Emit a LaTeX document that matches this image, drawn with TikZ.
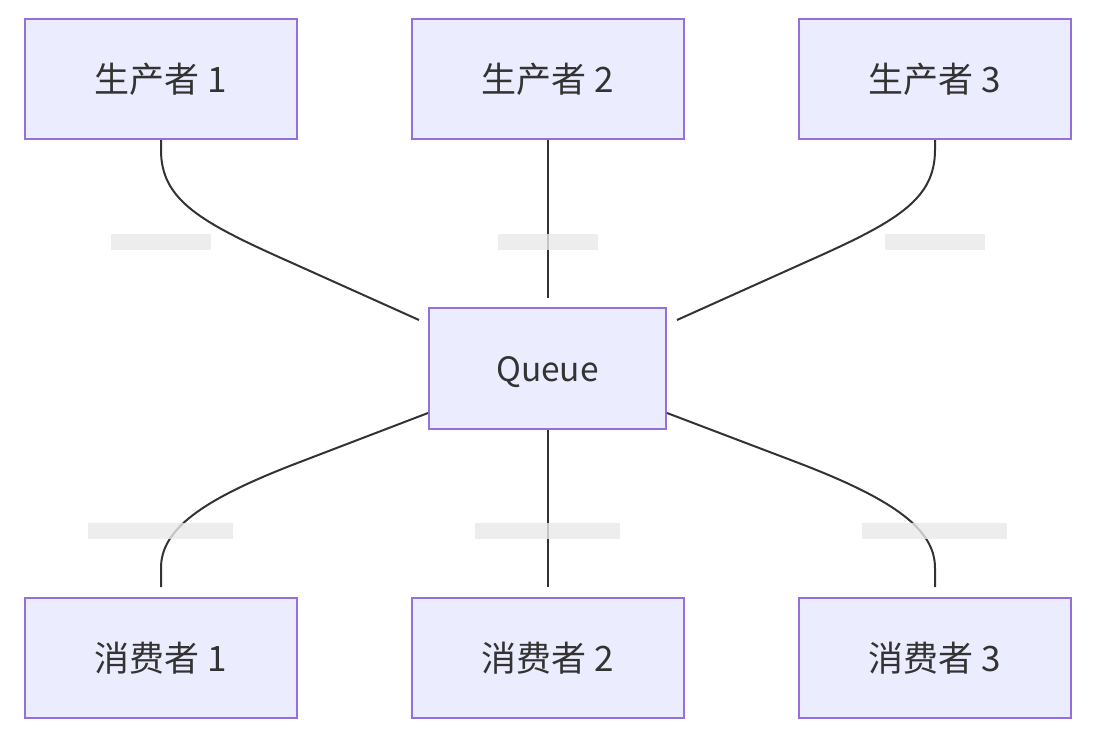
\documentclass[tikz,border=0pt]{standalone}
\usepackage{fontspec}
\setmainfont{Noto Sans CJK SC}
\begin{document}
\begin{tikzpicture}[x=1pt,y=-1pt]
\definecolor{nodefill}{HTML}{ECECFF}
\definecolor{nodeline}{HTML}{9370DB}
\definecolor{ink}{HTML}{333333}
\definecolor{lblbg}{RGB}{232,232,232}
\tikzset{
  box/.style={draw=nodeline, fill=nodefill, line width=2pt, minimum width=272pt, minimum height=120pt, inner sep=0pt, text=ink, font=\fontsize{35}{40}\selectfont},
  qbox/.style={box, minimum width=237pt, minimum height=121pt, font=\fontsize{33.5}{40}\selectfont},
  conn/.style={draw=ink, line width=2pt},
  lbl/.style={fill=lblbg, fill opacity=0.8, draw=none, inner sep=0pt, minimum height=16pt}
}
\useasboundingbox (0,0) rectangle (1096,742);
\node[box] (p1) at (161,79) {生产者 1};
\node[box] (p2) at (548,79) {生产者 2};
\node[box] (p3) at (935,79) {生产者 3};
\node[qbox] (q) at (547.5,368.5) {\raisebox{-4pt}[\height][\depth]{Queue}};
\node[box] (c1) at (161,658) {消费者 1};
\node[box] (c2) at (548,658) {消费者 2};
\node[box] (c3) at (935,658) {消费者 3};
\coordinate (qp1) at (419,320);
\coordinate (qp2) at (548,298);
\coordinate (qp3) at (677,320);
\coordinate (cc1) at (161,587);
\coordinate (cc2) at (547.5,587);
\coordinate (cc3) at (935,587);
% producers -> queue
\draw[conn] (p1.south) -- (161,150) .. controls (161,200) and (200,222) .. (290,262) -- (qp1);
\draw[conn] (p2.south) -- (qp2);
\draw[conn] (p3.south) -- (935,150) .. controls (935,200) and (896,222) .. (806,262) -- (qp3);
% queue -> consumers
\draw[conn] (q.south west |- 0,413) -- (300,462) .. controls (200,500) and (161,530) .. (161,568) -- (cc1);
\draw[conn] (q.south) -- (cc2);
\draw[conn] (q.south east |- 0,413) -- (796,462) .. controls (896,500) and (935,530) .. (935,568) -- (cc3);
% empty edge labels
\node[lbl, minimum width=100pt] (l1) at (161,242) {};
\node[lbl, minimum width=100pt] (l2) at (548,242) {};
\node[lbl, minimum width=100pt] (l3) at (935,242) {};
\node[lbl, minimum width=145pt] (l4) at (160.5,531) {};
\node[lbl, minimum width=145pt] (l5) at (547.5,531) {};
\node[lbl, minimum width=145pt] (l6) at (934.5,531) {};
\end{tikzpicture}
\end{document}
